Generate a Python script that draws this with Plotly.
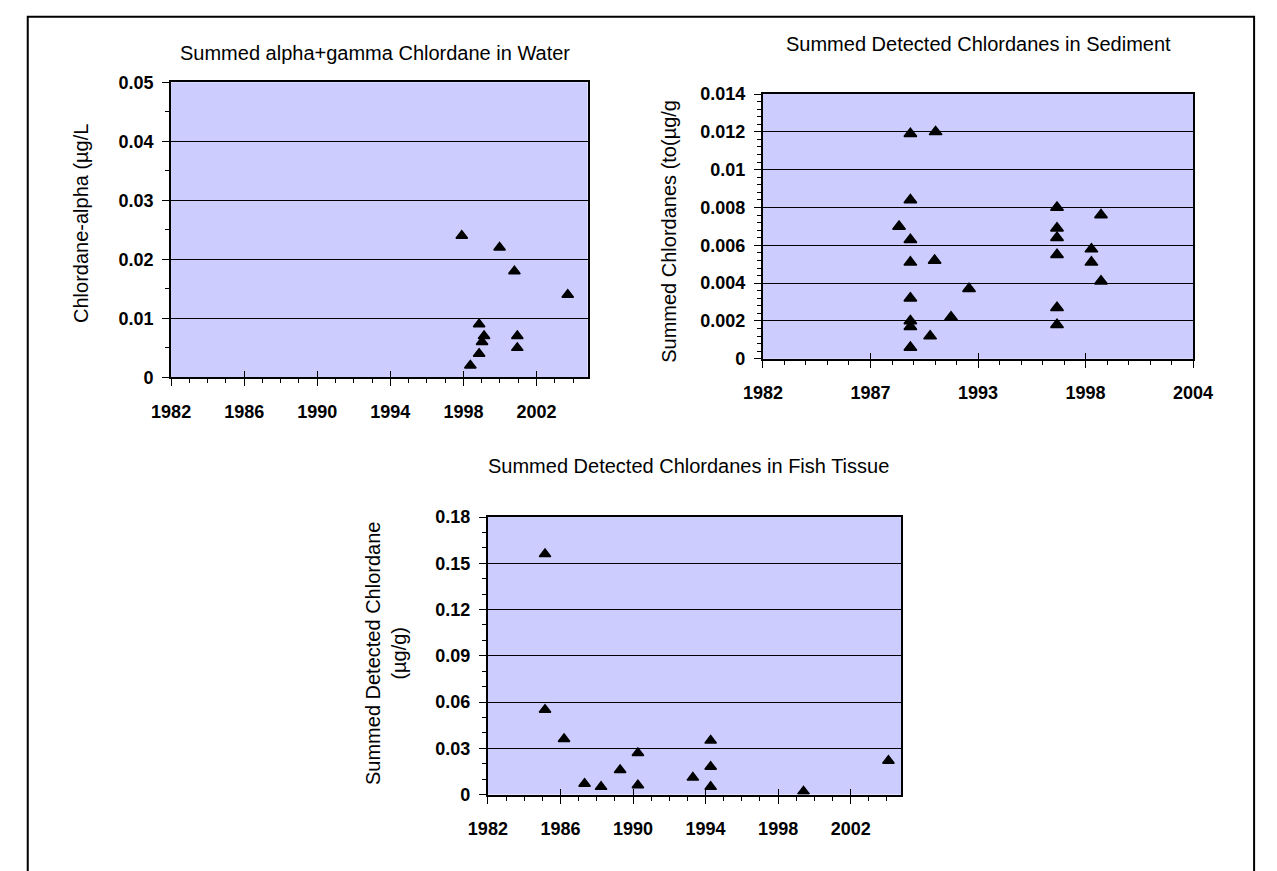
import plotly.graph_objects as go

W, H = 1277, 871

# ---- data -------------------------------------------------------------
water_year = [1997.91, 1998.38, 1998.86, 1998.86, 1999.02, 1999.13,
              1999.98, 2000.79, 2000.95, 2000.95, 2003.71]
water_conc = [0.024, 0.002, 0.004, 0.009, 0.006, 0.007,
              0.022, 0.018, 0.007, 0.005, 0.014]

sed_year = [1989.54, 1990.83, 1989.54, 1988.96, 1989.54, 1989.54, 1990.78,
            1989.54, 1989.54, 1989.54, 1989.54, 1990.55, 1991.62, 1992.54,
            1997.04, 1997.04, 1997.04, 1997.04, 1997.04, 1997.04,
            1998.80, 1998.80, 1999.29, 1999.29]
sed_conc = [0.0119, 0.0120, 0.0084, 0.0070, 0.0063, 0.0051, 0.0052,
            0.0032, 0.0020, 0.0017, 0.0006, 0.0012, 0.0022, 0.0037,
            0.0080, 0.0069, 0.0064, 0.0055, 0.0027, 0.0018,
            0.0058, 0.0051, 0.0076, 0.0041]

fish_year = [1985.15, 1985.15, 1986.20, 1987.33, 1988.24, 1989.29, 1990.27,
             1990.27, 1993.30, 1994.28, 1994.28, 1994.28, 1999.40, 2004.08]
fish_conc = [0.156, 0.055, 0.036, 0.007, 0.005, 0.016, 0.027,
             0.006, 0.011, 0.035, 0.018, 0.005, 0.002, 0.022]

water_xticks = [1982, 1986, 1990, 1994, 1998, 2002]
fish_xticks = [1982, 1986, 1990, 1994, 1998, 2002]
sed_xticks = [1982, 1987.5, 1993, 1998.5, 2004]
sed_xlabels = ["1982", "1987", "1993", "1998", "2004"]

water_yticks = [0, 0.01, 0.02, 0.03, 0.04, 0.05]
water_ylabels = ["0", "0.01", "0.02", "0.03", "0.04", "0.05"]
sed_yticks = [0, 0.002, 0.004, 0.006, 0.008, 0.01, 0.012, 0.014]
sed_ylabels = ["0", "0.002", "0.004", "0.006", "0.008", "0.01", "0.012", "0.014"]
fish_yticks = [0, 0.03, 0.06, 0.09, 0.12, 0.15, 0.18]
fish_ylabels = ["0", "0.03", "0.06", "0.09", "0.12", "0.15", "0.18"]

titles = ["Summed alpha+gamma Chlordane in Water",
          "Summed Detected Chlordanes in Sediment",
          "Summed Detected Chlordanes in Fish Tissue"]
ytitles = ["Chlordane-alpha (µg/L",
           "Summed Chlordanes (to(µg/g",
           "Summed Detected Chlordane<br>(µg/g)"]

# ---- helpers ----------------------------------------------------------
def fx(px):
    return px / W


def fy(py):
    return 1 - py / H


FONT = "Arial, Liberation Sans, sans-serif"
BG = "#CCCCFF"
tickfont = dict(family=FONT, size=18, color="black", weight="bold")


def xaxis(dom, rng, tickvals, ticktext, minor_dtick, anchor):
    return dict(
        domain=dom, range=rng, anchor=anchor,
        tickmode="array", tickvals=tickvals, ticktext=ticktext,
        ticks="outside", ticklen=7, tickwidth=1, tickcolor="black",
        ticklabelstandoff=10,
        minor=dict(ticks="outside", ticklen=4, tickwidth=1, tickcolor="black",
                   tick0=rng[0], dtick=minor_dtick, showgrid=False),
        showline=True, linewidth=2, linecolor="black", mirror=True,
        showgrid=False, zeroline=False, tickfont=tickfont,
    )


def xaxis_inner(rng, tickvals, overlay, anchor):
    # upper half of the crossing major ticks
    return dict(
        overlaying=overlay, anchor=anchor, range=rng,
        tickmode="array", tickvals=tickvals, ticks="inside", ticklen=6,
        tickwidth=1, tickcolor="black", showticklabels=False,
        showline=False, showgrid=False, zeroline=False,
    )


def yaxis(dom, rng, tickvals, ticktext, minor_dtick, anchor):
    return dict(
        domain=dom, range=rng, anchor=anchor,
        tickmode="array", tickvals=tickvals, ticktext=ticktext,
        ticks="outside", ticklen=7, tickwidth=1, tickcolor="black",
        ticklabelstandoff=5,
        minor=dict(ticks="outside", ticklen=4, tickwidth=1, tickcolor="black",
                   tick0=0, dtick=minor_dtick, showgrid=False),
        showline=True, linewidth=2, linecolor="black", mirror=True,
        showgrid=True, gridcolor="black", gridwidth=1,
        zeroline=False, tickfont=tickfont,
    )


marker = dict(symbol="triangle-up", size=10, color="black",
              line=dict(color="black", width=1.5))

fig = go.Figure()
fig.add_trace(go.Scatter(x=water_year, y=water_conc, mode="markers",
                         marker=marker, xaxis="x", yaxis="y", showlegend=False))
fig.add_trace(go.Scatter(x=sed_year, y=sed_conc, mode="markers",
                         marker=dict(marker, size=11), xaxis="x2", yaxis="y2",
                         showlegend=False))
fig.add_trace(go.Scatter(x=fish_year, y=fish_conc, mode="markers",
                         marker=marker, xaxis="x3", yaxis="y3", showlegend=False))
# empty traces that carry the inner tick axes
for xa, ya in (("x4", "y"), ("x5", "y2"), ("x6", "y3")):
    fig.add_trace(go.Scatter(x=[], y=[], xaxis=xa, yaxis=ya,
                             showlegend=False, hoverinfo="skip"))

water_rng = [1982, 2004.8]
sed_rng = [1982, 2004]
fish_rng = [1982, 2004.8]

fig.update_layout(
    width=W, height=H, autosize=False,
    margin=dict(l=0, r=0, t=0, b=0),
    paper_bgcolor="white", plot_bgcolor=BG,
    xaxis=xaxis([fx(156), fx(586)], water_rng, water_xticks,
                [str(v) for v in water_xticks], 1, "y"),
    yaxis=yaxis([fy(376), fy(74)], [0, 0.05], water_yticks, water_ylabels,
                0.005, "x"),
    xaxis2=xaxis([fx(767), fx(1211)], sed_rng, sed_xticks, sed_xlabels,
                 1.1, "y2"),
    yaxis2=yaxis([fy(357), fy(86)], [0, 0.014], sed_yticks, sed_ylabels,
                 0.0004, "x2"),
    xaxis3=xaxis([fx(483), fx(910)], fish_rng, fish_xticks,
                 [str(v) for v in fish_xticks], 1, "y3"),
    yaxis3=yaxis([fy(803), fy(519)], [0, 0.18], fish_yticks, fish_ylabels,
                 0.01, "x3"),
    xaxis4=xaxis_inner(water_rng, water_xticks, "x", "y"),
    xaxis5=xaxis_inner(sed_rng, sed_xticks, "x2", "y2"),
    xaxis6=xaxis_inner(fish_rng, fish_xticks, "x3", "y3"),
)

title_font = dict(family=FONT, size=20, color="black")
annots = []
for text, (cx, cy) in zip(titles, [(366, 44), (990, 35), (690, 467)]):
    annots.append(dict(text=text, x=fx(cx), y=fy(cy), xref="paper", yref="paper",
                       xanchor="center", yanchor="middle", showarrow=False,
                       font=title_font))
for text, (cx, cy) in zip(ytitles, [(63, 219), (670, 227), (378, 659)]):
    annots.append(dict(text=text, x=fx(cx), y=fy(cy), xref="paper", yref="paper",
                       xanchor="center", yanchor="middle", showarrow=False,
                       textangle=-90, font=title_font))
fig.update_layout(annotations=annots)

# outer frame around the whole sheet
fig.add_shape(type="rect", xref="paper", yref="paper",
              x0=fx(8), x1=fx(1274), y0=fy(890), y1=fy(7),
              line=dict(color="black", width=2), fillcolor="rgba(0,0,0,0)")

fig.write_html("out.html")
